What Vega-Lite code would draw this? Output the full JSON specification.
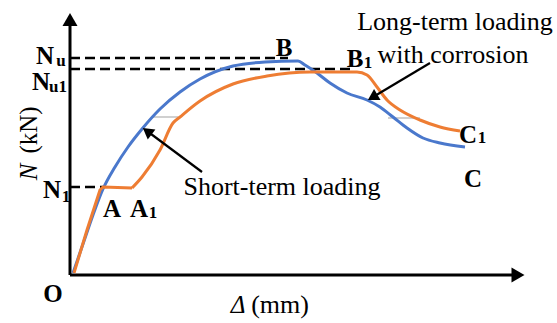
{
  "$schema": "https://vega.github.io/schema/vega-lite/v6.json",
  "width": 557,
  "height": 323,
  "autosize": {"type": "fit", "contains": "padding"},
  "padding": 0,
  "config": {"view": {"stroke": null}},
  "datasets": {
    "axes": [
      {"id": "y", "d": 0, "n": 0}, {"id": "y", "d": 0, "n": 250},
      {"id": "x", "d": 0, "n": 0}, {"id": "x", "d": 442, "n": 0}
    ],
    "dashes": [
      {"id": "Nu", "d": 0, "n": 217}, {"id": "Nu", "d": 218, "n": 217},
      {"id": "Nu1", "d": 0, "n": 206}, {"id": "Nu1", "d": 283, "n": 206},
      {"id": "N1", "d": 0, "n": 88}, {"id": "N1", "d": 33, "n": 88}
    ],
    "grey": [
      {"id": "g1", "d": 83, "n": 158}, {"id": "g1", "d": 108, "n": 158},
      {"id": "g2", "d": 318, "n": 157}, {"id": "g2", "d": 350, "n": 157}
    ],
    "blue": [
      {"d": 3, "n": 2},
      {"d": 13, "n": 31},
      {"d": 23, "n": 60},
      {"d": 33, "n": 86},
      {"d": 45, "n": 108},
      {"d": 58, "n": 128},
      {"d": 72, "n": 146},
      {"d": 90, "n": 166},
      {"d": 110, "n": 183},
      {"d": 130, "n": 196},
      {"d": 163, "n": 209},
      {"d": 195, "n": 213},
      {"d": 228, "n": 214},
      {"d": 235, "n": 210},
      {"d": 247, "n": 202},
      {"d": 260, "n": 192},
      {"d": 277, "n": 182},
      {"d": 297, "n": 175},
      {"d": 310, "n": 168},
      {"d": 323, "n": 158},
      {"d": 337, "n": 147},
      {"d": 353, "n": 137},
      {"d": 370, "n": 132},
      {"d": 395, "n": 128}
    ],
    "orangeLow": [
      {"d": 4, "n": 2},
      {"d": 17, "n": 45},
      {"d": 30, "n": 85},
      {"d": 33, "n": 88},
      {"d": 62, "n": 87}
    ],
    "orangeHigh": [
      {"d": 62, "n": 87},
      {"d": 72, "n": 98},
      {"d": 90, "n": 125},
      {"d": 103, "n": 152},
      {"d": 110, "n": 158},
      {"d": 130, "n": 174},
      {"d": 163, "n": 191},
      {"d": 197, "n": 199},
      {"d": 240, "n": 203},
      {"d": 287, "n": 203},
      {"d": 297, "n": 200},
      {"d": 307, "n": 188},
      {"d": 317, "n": 175},
      {"d": 330, "n": 165},
      {"d": 350, "n": 155},
      {"d": 370, "n": 148},
      {"d": 390, "n": 144}
    ],
    "pointers": [
      {"id": "short", "d": 132, "n": 103}, {"id": "short", "d": 77, "n": 144},
      {"id": "long", "d": 360, "n": 212}, {"id": "long", "d": 302.6, "n": 177.7}
    ],
    "bold": [
      {"t": "N", "d": -25, "n": 211},
      {"t": "N", "d": -29, "n": 185},
      {"t": "N", "d": -18, "n": 77},
      {"t": "A", "d": 42, "n": 58},
      {"t": "A", "d": 69, "n": 58},
      {"t": "B", "d": 214, "n": 219},
      {"t": "B", "d": 285, "n": 208},
      {"t": "C", "d": 398, "n": 132},
      {"t": "C", "d": 403, "n": 88},
      {"t": "O", "d": -17, "n": -27}
    ],
    "subs": [
      {"t": "u", "d": -9, "n": 209},
      {"t": "u1", "d": -12, "n": 183},
      {"t": "1", "d": -4, "n": 73},
      {"t": "1", "d": 83, "n": 57},
      {"t": "1", "d": 298, "n": 207},
      {"t": "1", "d": 412, "n": 132}
    ],
    "notes": [
      {"t": "Long-term loading", "d": 385, "n": 245},
      {"t": "with corrosion", "d": 383, "n": 212},
      {"t": "Short-term loading", "d": 212, "n": 80},
      {"t": "(mm)", "d": 210, "n": -38}
    ]
  },
  "encoding": {
    "x": {"field": "d", "type": "quantitative", "scale": {"domain": [-70, 487], "nice": false, "zero": false}, "axis": null},
    "y": {"field": "n", "type": "quantitative", "scale": {"domain": [-48, 275], "nice": false, "zero": false}, "axis": null}
  },
  "layer": [
    {"data": {"name": "grey"}, "mark": {"type": "line", "color": "#d0d0d0", "strokeWidth": 2}, "encoding": {"detail": {"field": "id"}}},
    {"data": {"name": "axes"}, "mark": {"type": "line", "color": "black", "strokeWidth": 3}, "encoding": {"detail": {"field": "id"}}},
    {"data": {"values": [{"d": 0, "n": 255.5}]}, "mark": {"type": "point", "shape": "triangle-up", "size": 225, "filled": true, "color": "black", "opacity": 1}},
    {"data": {"values": [{"d": 448, "n": 0}]}, "mark": {"type": "point", "shape": "triangle-right", "size": 225, "filled": true, "color": "black", "opacity": 1}},
    {"data": {"name": "dashes"}, "mark": {"type": "line", "color": "black", "strokeWidth": 2.5, "strokeDash": [10, 5]}, "encoding": {"detail": {"field": "id"}}},
    {"data": {"name": "blue"}, "mark": {"type": "line", "strokeWidth": 3, "color": "#4a78cc", "interpolate": "monotone"}},
    {"data": {"name": "orangeLow"}, "mark": {"type": "line", "strokeWidth": 3, "color": "#ee7d33", "strokeJoin": "round"}},
    {"data": {"name": "orangeHigh"}, "mark": {"type": "line", "strokeWidth": 3, "color": "#ee7d33", "interpolate": "monotone"}},
    {"data": {"name": "pointers"}, "mark": {"type": "line", "color": "black", "strokeWidth": 2.2}, "encoding": {"detail": {"field": "id"}}},
    {"data": {"values": [{"d": 77.2, "n": 143.8}]}, "mark": {"type": "point", "shape": "triangle-up", "size": 160, "filled": true, "color": "black", "opacity": 1, "angle": 307}},
    {"data": {"values": [{"d": 302.6, "n": 177.7}]}, "mark": {"type": "point", "shape": "triangle-up", "size": 160, "filled": true, "color": "black", "opacity": 1, "angle": 239}},
    {"data": {"name": "bold"}, "mark": {"type": "text", "font": "Liberation Serif", "fontWeight": "bold", "fontSize": 25, "align": "center", "baseline": "alphabetic", "color": "black"}, "encoding": {"text": {"field": "t"}}},
    {"data": {"name": "subs"}, "mark": {"type": "text", "font": "Liberation Serif", "fontWeight": "bold", "fontSize": 17, "align": "center", "baseline": "alphabetic", "color": "black"}, "encoding": {"text": {"field": "t"}}},
    {"data": {"name": "notes"}, "mark": {"type": "text", "font": "Liberation Serif", "fontSize": 26, "align": "center", "baseline": "alphabetic", "color": "black"}, "encoding": {"text": {"field": "t"}}},
    {"data": {"values": [{"t": "Δ", "d": 168, "n": -38}]}, "mark": {"type": "text", "font": "Liberation Serif", "fontSize": 25, "fontStyle": "italic", "align": "center", "baseline": "alphabetic", "color": "black"}, "encoding": {"text": {"field": "t"}}},
    {"data": {"values": [{"t": "N", "d": -33, "n": 103}]}, "mark": {"type": "text", "font": "Liberation Serif", "fontSize": 25, "fontStyle": "italic", "angle": 270, "align": "center", "baseline": "alphabetic", "color": "black"}, "encoding": {"text": {"field": "t"}}},
    {"data": {"values": [{"t": "(kN)", "d": -33, "n": 145}]}, "mark": {"type": "text", "font": "Liberation Serif", "fontSize": 25, "angle": 270, "align": "center", "baseline": "alphabetic", "color": "black"}, "encoding": {"text": {"field": "t"}}}
  ]
}
